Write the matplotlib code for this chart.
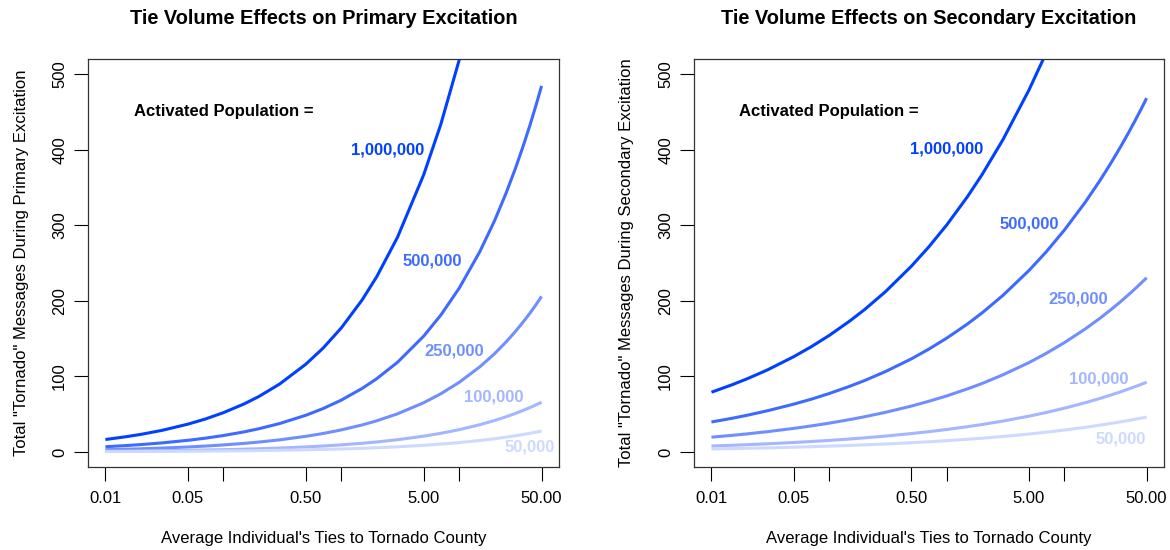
import matplotlib
matplotlib.use("Agg")
import matplotlib.pyplot as plt

plt.rcParams['font.family'] = ['Liberation Sans', 'DejaVu Sans']

# average ties (x, log scale)
ties = [0.01, 0.015, 0.02, 0.03, 0.05, 0.07, 0.1, 0.15, 0.2, 0.3, 0.5, 0.7,
        1, 1.5, 2, 3, 5, 7, 10, 15, 20, 25, 30, 35, 40, 45, 50]

populations = ['1,000,000', '500,000', '250,000', '100,000', '50,000']
colors = ['#0040ff', '#3d6bff', '#6f8fff', '#a3b6ff', '#cdd9ff']

# messages during primary excitation
primary = [
    [16.4, 20.1, 23.2, 28.4, 36.7, 43.4, 51.9, 63.5, 73.3, 89.8, 116.0, 137.2, 164,
     200.9, 231.9, 284.1, 366.7, 433.9, 518.6, 635.2, 733.4, 820, 898.3, 970.2, 1037.2, 1100.1, 1159.7],
    [6.85, 8.39, 9.69, 11.86, 15.32, 18.12, 21.66, 26.53, 30.63, 37.52, 48.44, 57.31, 68.5,
     83.9, 96.9, 118.6, 153.2, 181.2, 216.6, 265.3, 306.3, 342.5, 375.2, 405.3, 433.2, 459.5, 484.4],
    [2.91, 3.56, 4.12, 5.04, 6.51, 7.70, 9.20, 11.27, 13.01, 15.94, 20.58, 24.35, 29.1,
     35.64, 41.15, 50.40, 65.07, 76.99, 92.02, 112.7, 130.1, 145.5, 159.4, 172.2, 184.0, 195.2, 205.8],
    [0.93, 1.14, 1.32, 1.61, 2.08, 2.46, 2.94, 3.60, 4.16, 5.09, 6.58, 7.78, 9.3,
     11.39, 13.15, 16.11, 20.80, 24.61, 29.41, 36.02, 41.59, 46.5, 50.94, 55.02, 58.82, 62.39, 65.76],
    [0.39, 0.48, 0.55, 0.68, 0.87, 1.03, 1.23, 1.51, 1.74, 2.14, 2.76, 3.26, 3.9,
     4.78, 5.52, 6.75, 8.72, 10.32, 12.33, 15.10, 17.44, 19.5, 21.36, 23.07, 24.67, 26.16, 27.58],
]

# messages during secondary excitation
secondary = [
    [79, 88.9, 96.6, 108.6, 126.0, 138.9, 154.0, 173.3, 188.3, 211.8, 245.7, 270.9, 300.4,
     337.8, 367.2, 413.1, 479.0, 528.1, 585.7, 658.7, 716.0, 763.9, 805.3, 842.1, 875.4, 905.7, 933.9],
    [39.6, 44.5, 48.4, 54.5, 63.2, 69.6, 77.2, 86.9, 94.4, 106.2, 123.1, 135.8, 150.6,
     169.3, 184.1, 207.1, 240.1, 264.7, 293.6, 330.2, 358.9, 382.9, 403.7, 422.1, 438.8, 454.0, 468.2],
    [19.5, 21.9, 23.8, 26.8, 31.1, 34.3, 38.0, 42.8, 46.5, 52.3, 60.6, 66.9, 74.1,
     83.4, 90.6, 102.0, 118.2, 130.4, 144.6, 162.6, 176.7, 188.6, 198.8, 207.9, 216.1, 223.6, 230.5],
    [7.8, 8.77, 9.54, 10.73, 12.44, 13.71, 15.21, 17.11, 18.60, 20.91, 24.26, 26.74, 29.65,
     33.36, 36.26, 40.78, 47.29, 52.15, 57.83, 65.03, 70.70, 75.42, 79.51, 83.15, 86.43, 89.43, 92.21],
    [3.9, 4.39, 4.77, 5.36, 6.22, 6.86, 7.60, 8.55, 9.30, 10.46, 12.13, 13.37, 14.83,
     16.68, 18.13, 20.39, 23.65, 26.07, 28.91, 32.52, 35.35, 37.71, 39.76, 41.57, 43.22, 44.71, 46.11],
]

# label anchor positions (right end of text) per panel
primary_label_pos = [(5.1, 400), (10.5, 252), (16.2, 133), (35.3, 73), (64.6, 7)]
secondary_label_pos = [(2.04, 401), (9.0, 302), (23.4, 202), (35.3, 96), (49, 17)]

x_ticks = [0.01, 0.05, 0.1, 0.5, 1, 5, 10, 50]
x_ticklabels = ['0.01', '0.05', '', '0.50', '', '5.00', '', '50.00']
y_ticks = [0, 100, 200, 300, 400, 500]

fig = plt.figure(figsize=(11.7, 5.5), dpi=100)
ax1 = fig.add_axes([0.0752, 0.1509, 0.4026, 0.7418])
ax2 = fig.add_axes([0.5932, 0.1509, 0.4017, 0.7418])

panels = [
    (ax1, primary, primary_label_pos, 'Primary', -0.125),
    (ax2, secondary, secondary_label_pos, 'Secondary', -0.128),
]

for ax, data, label_pos, kind, ylab_x in panels:
    for vals, col, name, (lx, ly) in zip(data, colors, populations, label_pos):
        ax.plot(ties, vals, color=col, linewidth=2.2, solid_capstyle='butt')
        ax.text(lx, ly, name, color=col, fontsize=12, fontweight='bold',
                ha='right', va='center')
    ax.text(0.1, 451, 'Activated Population =', fontsize=12, fontweight='bold',
            ha='center', va='center')
    ax.set_xscale('log')
    ax.set_xlim(0.01 / 10 ** 0.148, 50 * 10 ** 0.148)
    ax.set_ylim(-20, 520)
    ax.set_xticks(x_ticks)
    ax.set_xticklabels(x_ticklabels)
    ax.xaxis.set_minor_locator(matplotlib.ticker.NullLocator())
    ax.set_yticks(y_ticks)
    ax.set_yticklabels([str(v) for v in y_ticks], rotation=90, va='center')
    ax.tick_params(axis='both', length=10, width=0.8, labelsize=12)
    ax.tick_params(axis='x', pad=7.5)
    ax.tick_params(axis='y', pad=5)
    for sp in ax.spines.values():
        sp.set_linewidth(0.9)
        sp.set_color('#333333')
    ax.set_title('Tie Volume Effects on %s Excitation' % kind, fontsize=14.4,
                 fontweight='bold', pad=25)
    ax.set_xlabel("Average Individual's Ties to Tornado County", fontsize=12)
    ax.xaxis.set_label_coords(0.5, -0.158)
    ax.set_ylabel('Total "Tornado" Messages During %s Excitation' % kind, fontsize=12)
    ax.yaxis.set_label_coords(ylab_x, 0.5)

fig.savefig('out.png', dpi=100)
